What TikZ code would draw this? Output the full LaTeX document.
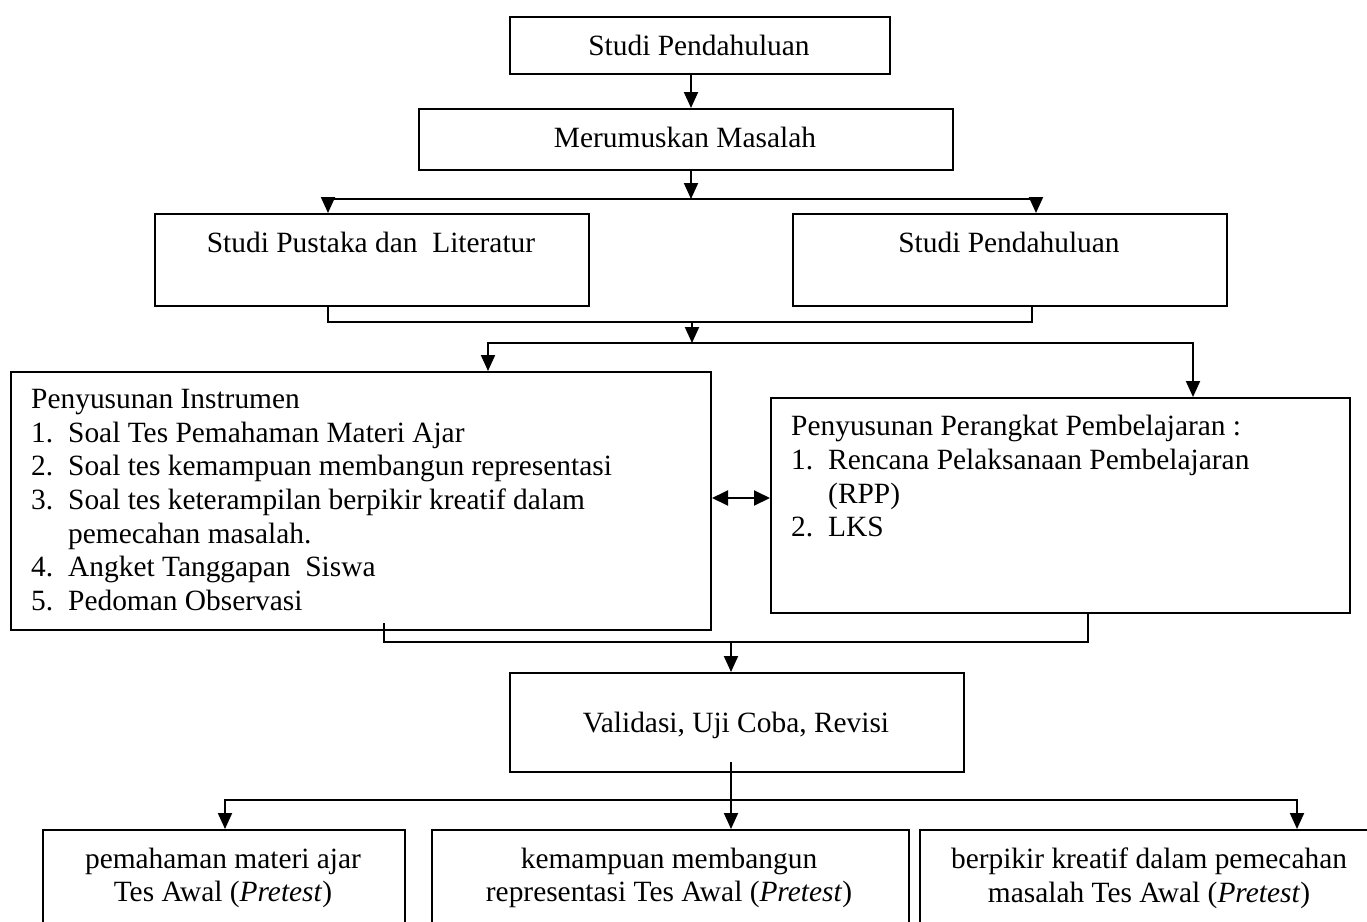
\documentclass[tikz,border=0pt]{standalone}
\usepackage{fontspec}
\setmainfont{Liberation Serif}
\usetikzlibrary{arrows.meta}
\begin{document}
\begin{tikzpicture}[x=1pt,y=-1pt,
  box/.style={draw,line width=2pt,inner sep=0pt,rectangle,anchor=north west},
  txt/.style={inner sep=0pt,font=\fontsize{29.4}{33.7}\selectfont},
  conn/.style={line width=2pt},
  arr/.style={conn,-{Triangle[length=16pt,width=14pt]}},
  darr/.style={conn,{Triangle[length=16pt,width=15pt]}-{Triangle[length=16pt,width=15pt]}}]
\useasboundingbox (0,0) rectangle (1367,921);
\clip (0,0) rectangle (1367,921);
% boxes
\node[box,minimum width=380pt,minimum height=57pt] (b1) at (509,16) {};
\node[box,minimum width=534pt,minimum height=61pt] (b2) at (418,108) {};
\node[box,minimum width=434pt,minimum height=92pt] (b3) at (154,213) {};
\node[box,minimum width=434pt,minimum height=92pt] (b4) at (792,213) {};
\node[box,minimum width=700pt,minimum height=258pt] (b5) at (10,371) {};
\node[box,minimum width=579pt,minimum height=215pt] (b6) at (770,397) {};
\node[box,minimum width=454pt,minimum height=99pt] (b7) at (509,672) {};
\node[box,minimum width=362pt,minimum height=120pt] (b8) at (42,829) {};
\node[box,minimum width=477pt,minimum height=120pt] (b9) at (431,829) {};
\node[box,minimum width=460pt,minimum height=120pt] (b10) at (919,829) {};
% texts
\node[txt] (t1) at (699,45) {Studi Pendahuluan};
\node[txt] (t2) at (685,137) {Merumuskan Masalah};
\node[txt] (t3) at (371,242) {Studi Pustaka dan~ Literatur};
\node[txt] (t4) at (1009,242) {Studi Pendahuluan};
\node[txt,anchor=north west,align=left] (t5) at (31,389) {Penyusunan Instrumen\\
\makebox[37pt][l]{1.}Soal Tes Pemahaman Materi Ajar\\
\makebox[37pt][l]{2.}Soal tes kemampuan membangun representasi\\
\makebox[37pt][l]{3.}Soal tes keterampilan berpikir kreatif dalam\\
\hspace*{37pt}pemecahan masalah.\\
\makebox[37pt][l]{4.}Angket Tanggapan~ Siswa\\
\makebox[37pt][l]{5.}Pedoman Observasi};
\node[txt,anchor=north west,align=left] (t6) at (791,415) {Penyusunan Perangkat Pembelajaran :\\
\makebox[37pt][l]{1.}Rencana Pelaksanaan Pembelajaran\\
\hspace*{37pt}(RPP)\\
\makebox[37pt][l]{2.}LKS};
\node[txt] (t7) at (736,725) {Validasi, Uji Coba, Revisi};
\node[txt,align=center] (t8) at (223,878) {pemahaman materi ajar\\Tes Awal (\textit{Pretest})};
\node[txt,align=center] (t9) at (669,878) {kemampuan membangun\\representasi Tes Awal (\textit{Pretest})};
\node[txt,align=center] (t10) at (1149,878) {berpikir kreatif dalam pemecahan\\masalah Tes Awal (\textit{Pretest})};
% junction coordinates
\coordinate (a1) at (691,0);
\coordinate (j1) at (691,199);
\coordinate (j1L) at (328,199);
\coordinate (j1R) at (1036,199);
\coordinate (k1) at (692,322);
\coordinate (k1L) at (328,322);
\coordinate (k1R) at (1032,322);
\coordinate (j2) at (692,343);
\coordinate (j2L) at (488,343);
\coordinate (j2R) at (1193,343);
\coordinate (d) at (740,498);
\coordinate (m0) at (384,623);
\coordinate (m1) at (731,642);
\coordinate (m1L) at (384,642);
\coordinate (m1R) at (1088,642);
\coordinate (n0) at (731,762);
\coordinate (n1L) at (225,800);
\coordinate (n1R) at (1297,800);
% connectors
\draw[arr] (b1.south -| a1) -- (b2.north -| a1);
\draw[arr] (b2.south -| j1) -- (j1);
\draw[arr] (j1R) -- (j1L) -- (b3.north -| j1L);
\draw[arr] (j1L) -- (j1R) -- (b4.north -| j1R);
\draw[conn] (b3.south -| k1L) -- (k1L) -- (k1R) -- (b4.south -| k1R);
\draw[arr] (k1) -- (j2);
\draw[arr] (j2R) -- (j2L) -- (b5.north -| j2L);
\draw[arr] (j2L) -- (j2R) -- (b6.north -| j2R);
\draw[darr] (b5.east |- d) -- (b6.west |- d);
\draw[conn] (m0) -- (m1L) -- (m1R) -- (b6.south -| m1R);
\draw[arr] (m1) -- (b7.north -| m1);
\draw[arr] (n0) -- (b9.north -| n0);
\draw[arr] (n1R) -- (n1L) -- (b8.north -| n1L);
\draw[arr] (n1L) -- (n1R) -- (b10.north -| n1R);
\end{tikzpicture}
\end{document}
